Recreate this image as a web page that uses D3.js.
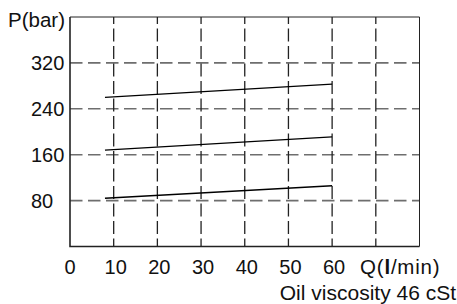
<!DOCTYPE html>
<html>
<head>
<meta charset="utf-8">
<script src="https://cdn.jsdelivr.net/npm/d3@7"></script>
<style>
  html, body { margin: 0; padding: 0; background: #fff; }
  svg text { font-family: "Liberation Sans", Arial, sans-serif; fill: #111; }
</style>
</head>
<body>
<svg id="chart" width="457" height="304"></svg>
<script>
// flow (l/min) and pressure (bar) for the three setting curves
var flow = [8, 60];
var lowCurve = [84, 106];
var midCurve = [168, 191];
var highCurve = [260, 283];
var curves = [lowCurve, midCurve, highCurve];

var xTicks = [0, 10, 20, 30, 40, 50, 60];
var xGrid = [10, 20, 30, 40, 50, 60, 70];
var yTicks = [80, 160, 240, 320];

(function() {
  var svg = d3.select("#chart");
  var mLeft = 70, mRight = 419.5, mTop = 17, mBottom = 246.5;

  var x = d3.scaleLinear().domain([0, 80]).range([mLeft, mRight]);
  var y = d3.scaleLinear().domain([0, 400]).range([mBottom, mTop]);

  // horizontal grid
  svg.append("g").selectAll("line")
    .data(yTicks)
    .enter().append("line")
    .attr("x1", mLeft).attr("x2", mRight)
    .attr("y1", function(d) { return y(d); })
    .attr("y2", function(d) { return y(d); })
    .attr("stroke", "#6e6e6e")
    .attr("stroke-width", 1.6)
    .attr("stroke-dasharray", "12.5,5.5");

  // vertical grid
  svg.append("g").selectAll("line")
    .data(xGrid)
    .enter().append("line")
    .attr("x1", function(d) { return x(d); })
    .attr("x2", function(d) { return x(d); })
    .attr("y1", mTop).attr("y2", mBottom)
    .attr("stroke", "#222")
    .attr("stroke-width", 1.3)
    .attr("stroke-dasharray", "13,4.5")
    .attr("stroke-dashoffset", 6);

  // frame: thin top/right, heavier left/bottom
  svg.append("path")
    .attr("d", "M" + mLeft + "," + mTop + "H" + mRight + "V" + mBottom)
    .attr("fill", "none").attr("stroke", "#222").attr("stroke-width", 1);
  svg.append("path")
    .attr("d", "M" + mLeft + "," + mTop + "V" + mBottom + "H" + mRight)
    .attr("fill", "none").attr("stroke", "#222").attr("stroke-width", 1.6);

  // curves
  var line = d3.line()
    .x(function(d, i) { return x(flow[i]); })
    .y(function(d) { return y(d); });

  svg.append("g").selectAll("path")
    .data(curves)
    .enter().append("path")
    .attr("d", line)
    .attr("fill", "none")
    .attr("stroke", "#000")
    .attr("stroke-width", 1.4);

  // tick labels
  svg.append("g").selectAll("text")
    .data(xTicks)
    .enter().append("text")
    .attr("x", function(d) { return x(d) + (d === 0 ? 0 : 2); })
    .attr("y", 274)
    .attr("text-anchor", "middle")
    .attr("font-size", 20)
    .text(function(d) { return d; });

  svg.append("g").selectAll("text")
    .data(yTicks)
    .enter().append("text")
    .attr("x", 31)
    .attr("y", function(d) { return y(d) + 7; })
    .attr("font-size", 20)
    .text(function(d) { return d; });

  // axis titles
  svg.append("text")
    .attr("x", 8).attr("y", 27)
    .attr("font-size", 20.5)
    .text("P(bar)");

  var q = svg.append("text")
    .attr("x", 360).attr("y", 274)
    .attr("font-size", 20.5)
    .attr("letter-spacing", 0.8);
  q.append("tspan").text("Q(");
  q.append("tspan").attr("font-weight", "bold").text("l");
  q.append("tspan").text("/min)");

  svg.append("text")
    .attr("x", 456).attr("y", 300)
    .attr("text-anchor", "end")
    .attr("font-size", 21)
    .text("Oil viscosity 46 cSt");
})();
</script>
</body>
</html>
